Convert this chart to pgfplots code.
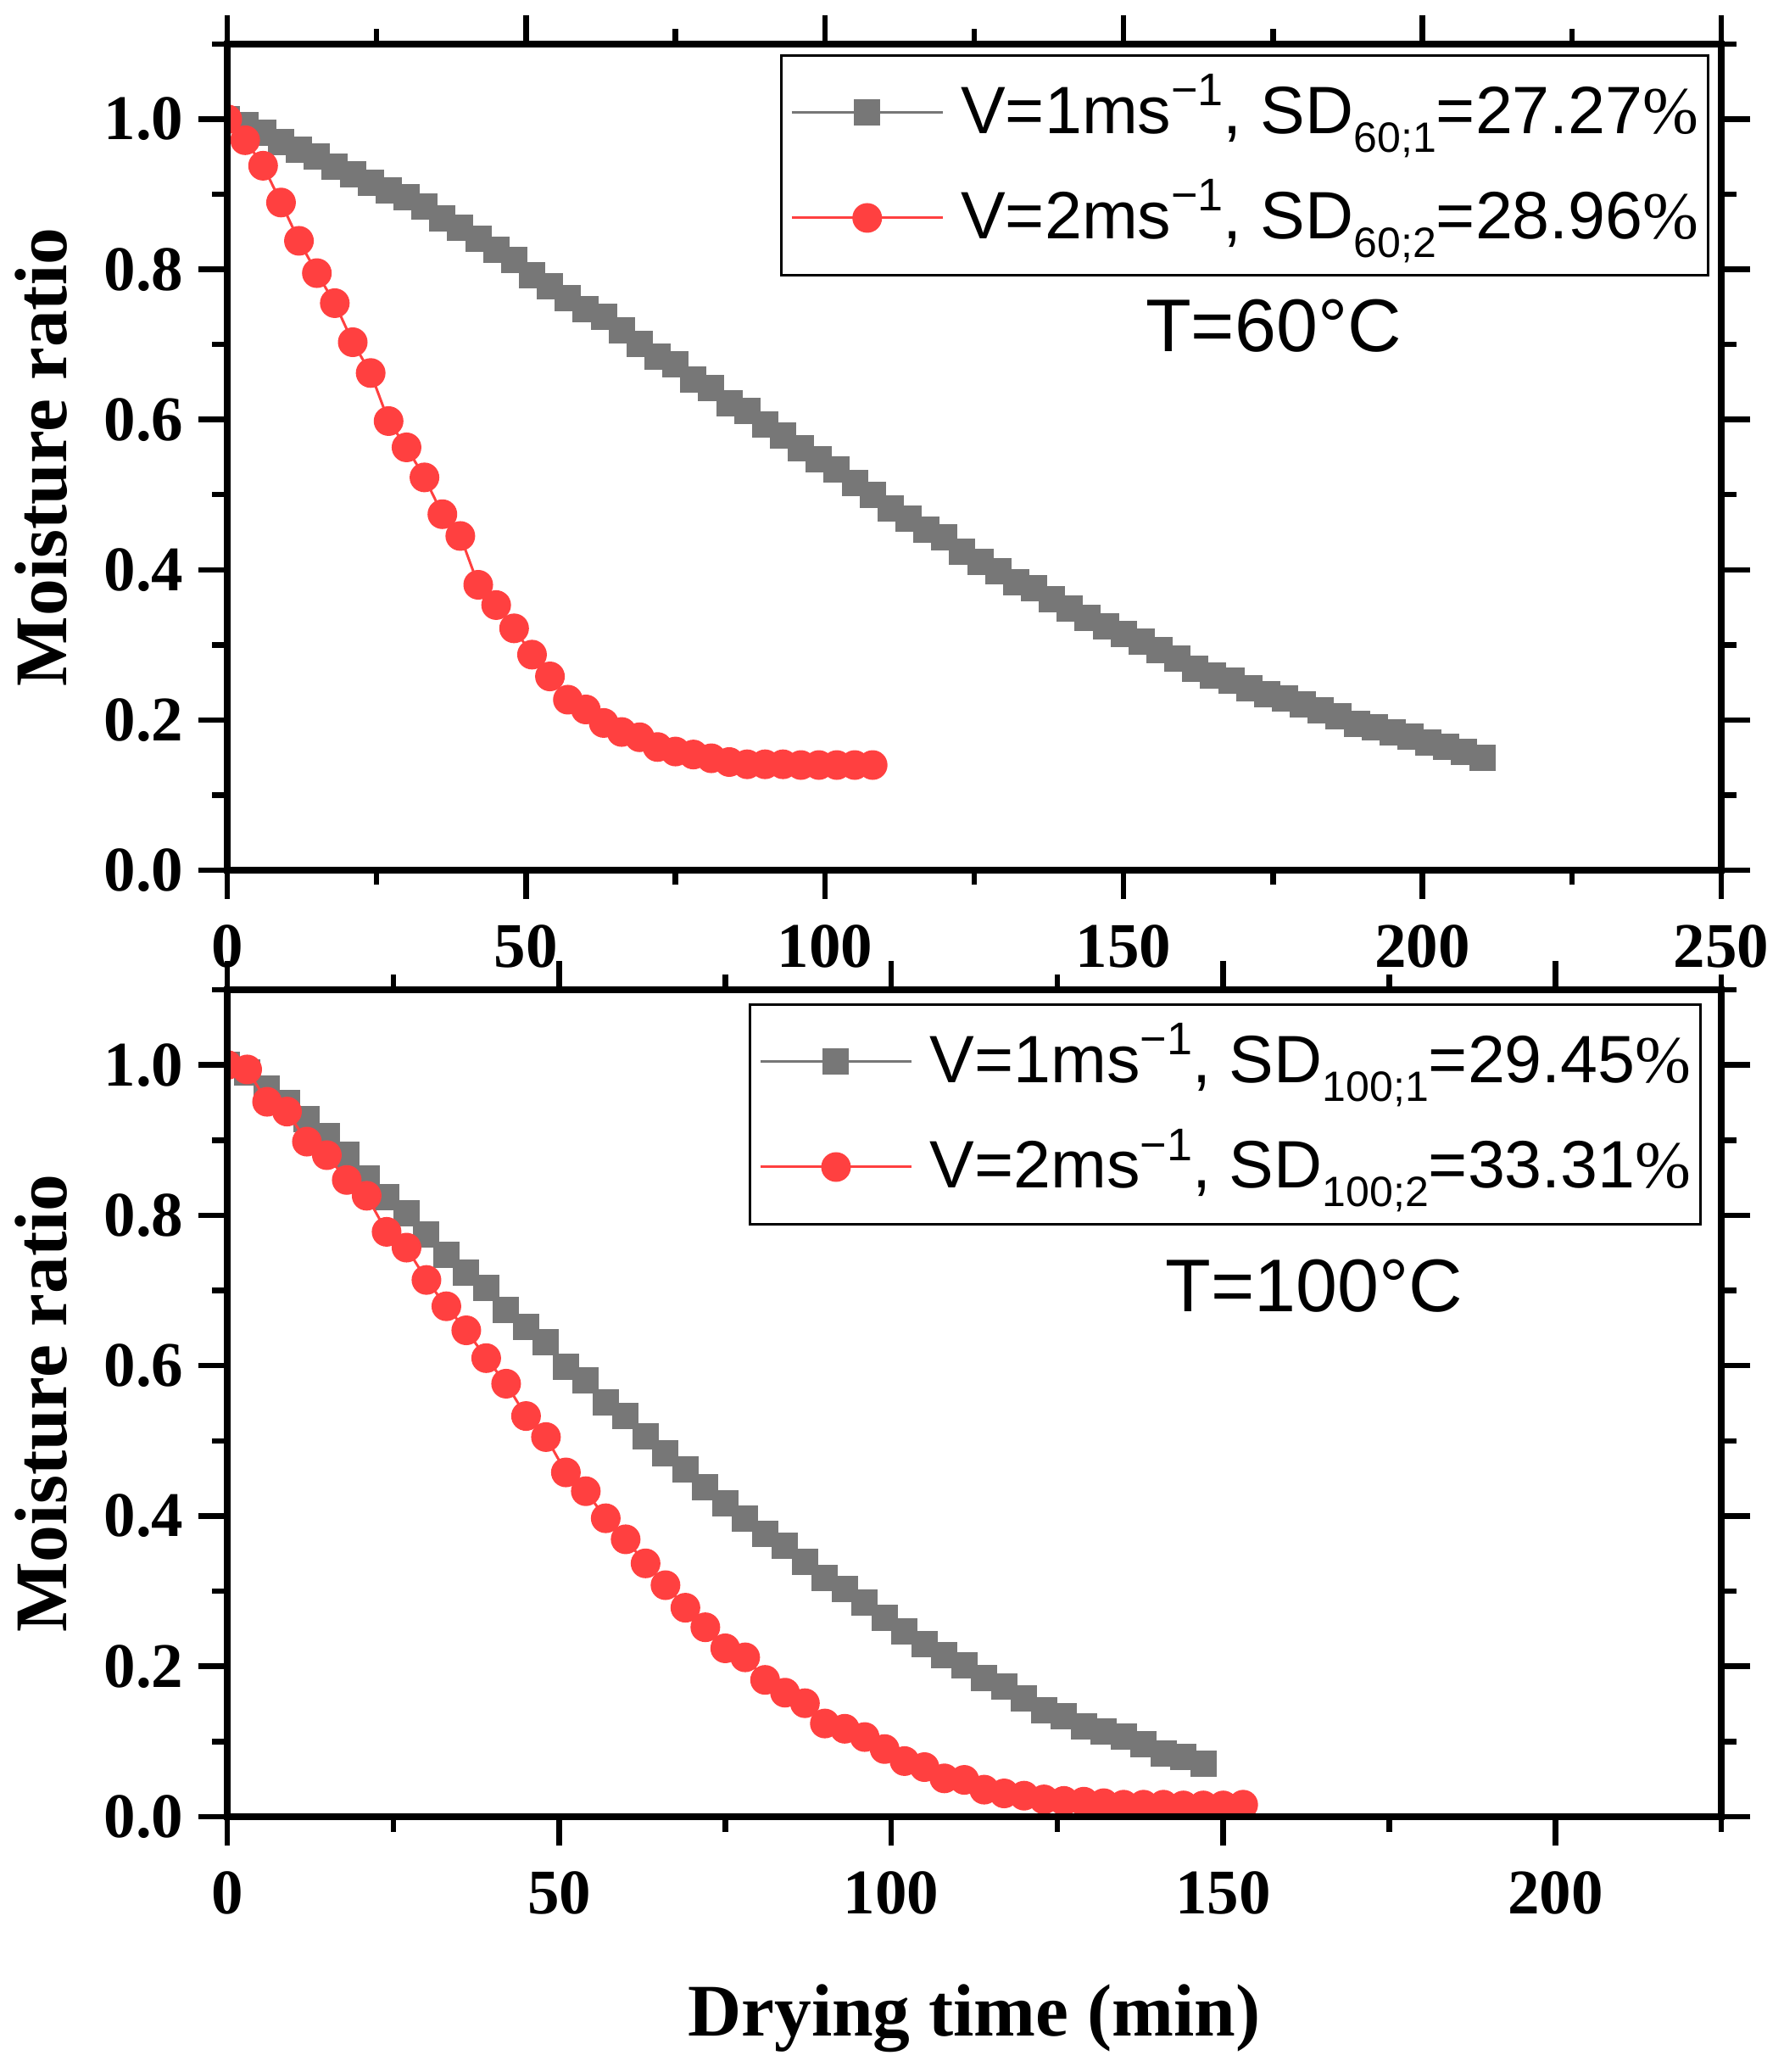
\documentclass[border=0pt]{standalone}
\usepackage{fontspec}
\setmainfont{Liberation Serif}
\newfontfamily\arial{Liberation Sans}
\usepackage{pgfplots}
\pgfplotsset{compat=1.18}

\definecolor{sqgray}{HTML}{777777}
\definecolor{dotred}{HTML}{FF4040}

% raised / lowered small text for the legend entries
\newcommand\sps[1]{\raisebox{6.5pt}{\fontsize{10.8}{10.8}\selectfont #1}}
\newcommand\sbs[1]{\raisebox{-4.4pt}{\fontsize{10}{10}\selectfont #1}}

\pgfplotsset{
  drypanel/.style={
    scale only axis, width=352.4pt, height=194.8pt,
    xmin=0, ymin=0, ymax=1.1,
    axis line style={line width=1.6pt},
    tick style={line width=1.3pt, black},
    major tick length=6.8pt, minor tick length=3.5pt,
    tick align=outside, tick pos=both,
    ytick={0,0.2,0.4,0.6,0.8,1.0},
    minor ytick={0.1,0.3,0.5,0.7,0.9,1.1},
    /pgf/number format/assume math mode=true,
    tick label style={font=\fontsize{15}{15}\selectfont\bfseries},
    yticklabel style={/pgf/number format/.cd, fixed, fixed zerofill, precision=1},
    xticklabel style={yshift=-2.6pt},
    clip marker paths=true, axis on top,
    ylabel={Moisture ratio},
    ylabel style={at={(axis description cs:-0.10727,0.5)}, anchor=base,
      font=\fontsize{17.5}{17.5}\selectfont\bfseries},
    legend cell align=left,
    legend image code/.code={
      \draw[mark repeat=2, mark phase=2, #1] plot coordinates {(0pt,0pt) (17.8pt,0pt) (35.6pt,0pt)};
    },
    legend style={draw=black, line width=0.6pt, inner xsep=2.2pt, inner ysep=4pt,
      row sep=5.8pt, column sep=4pt, anchor=north east,
      font=\arial\fontsize{15.8}{18}\selectfont,
      nodes={inner xsep=0pt, inner ysep=0pt, text height=14.4pt, text depth=4.6pt}},
  },
  grayline/.style={color=sqgray, line width=0.6pt, mark=square*, mark size=2.8pt,
    mark options={draw=none, fill=sqgray}},
  redline/.style={color=dotred, line width=0.6pt, mark=*, mark size=3.2pt,
    mark options={draw=none, fill=dotred}},
}

\begin{document}
\begin{tikzpicture}
\useasboundingbox (-53.6pt,-283.4pt) rectangle (367pt,205.2pt);

% T = 60 C
\begin{axis}[drypanel, at={(0pt,0pt)}, anchor=south west,
    xmax=250, xtick={0,50,...,250}, minor xtick={25,75,...,225},
    legend style={at={(1,1)}, xshift=-2.8pt, yshift=-2.4pt}]
\addplot[grayline] table {
0 1.000
3 0.992
6 0.982
9 0.970
12 0.959
15 0.950
18 0.937
21 0.927
24 0.915
27 0.905
30 0.896
33 0.884
36 0.868
39 0.855
42 0.841
45 0.826
48 0.813
51 0.792
54 0.777
57 0.762
60 0.747
63 0.737
66 0.719
69 0.701
72 0.684
75 0.674
78 0.653
81 0.642
84 0.622
87 0.611
90 0.593
93 0.579
96 0.562
99 0.547
102 0.534
105 0.515
108 0.500
111 0.482
114 0.468
117 0.453
120 0.443
123 0.424
126 0.410
129 0.398
132 0.383
135 0.376
138 0.361
141 0.348
144 0.336
147 0.325
150 0.314
153 0.304
156 0.293
159 0.282
162 0.268
165 0.259
168 0.252
171 0.242
174 0.234
177 0.229
180 0.221
183 0.213
186 0.205
189 0.195
192 0.190
195 0.183
198 0.178
201 0.170
204 0.164
207 0.157
210 0.150
};
\addlegendentry{V=1ms\sps{−1}, SD\sbs{60;1}=27.27{\rmfamily\%}}

\addplot[redline] table {
0 1.000
3 0.972
6 0.938
9 0.889
12 0.838
15 0.795
18 0.755
21 0.703
24 0.662
27 0.598
30 0.563
33 0.523
36 0.474
39 0.445
42 0.380
45 0.353
48 0.322
51 0.287
54 0.258
57 0.227
60 0.214
63 0.196
66 0.184
69 0.177
72 0.164
75 0.158
78 0.154
81 0.149
84 0.144
87 0.141
90 0.141
93 0.141
96 0.140
99 0.140
102 0.140
105 0.140
108 0.140
};
\addlegendentry{V=2ms\sps{−1}, SD\sbs{60;2}=28.96{\rmfamily\%}}

\node[anchor=base, font=\arial\fontsize{17.6}{17.6}\selectfont]
  at (axis description cs:0.7003,0.6273) {T=60°C};
\end{axis}

% T = 100 C
\begin{axis}[drypanel, at={(0pt,-223.2pt)}, anchor=south west, height=195pt,
    xmax=225, xtick={0,50,...,200}, minor xtick={25,75,...,225},
    xlabel={Drying time (min)},
    xlabel style={at={(axis description cs:0.5,-0.2646)}, anchor=base,
      font=\fontsize{17.5}{17.5}\selectfont\bfseries},
    legend style={at={(1,1)}, xshift=-4.6pt, yshift=-3.2pt}]
\addplot[grayline] table {
0 1.000
3 0.990
6 0.969
9 0.949
12 0.928
15 0.905
18 0.880
21 0.849
24 0.824
27 0.803
30 0.774
33 0.747
36 0.724
39 0.703
42 0.674
45 0.651
48 0.631
51 0.599
54 0.580
57 0.551
60 0.533
63 0.506
66 0.483
69 0.462
72 0.438
75 0.417
78 0.397
81 0.376
84 0.361
87 0.339
90 0.318
93 0.303
96 0.285
99 0.265
102 0.247
105 0.230
108 0.215
111 0.201
114 0.185
117 0.173
120 0.157
123 0.142
126 0.134
129 0.120
132 0.113
135 0.107
138 0.097
141 0.084
144 0.079
147 0.071
};
\addlegendentry{V=1ms\sps{−1}, SD\sbs{100;1}=29.45{\rmfamily\%}}

\addplot[redline] table {
0 1.000
3 0.994
6 0.951
9 0.938
12 0.898
15 0.880
18 0.847
21 0.826
24 0.778
27 0.757
30 0.714
33 0.679
36 0.647
39 0.610
42 0.576
45 0.533
48 0.505
51 0.458
54 0.433
57 0.397
60 0.369
63 0.337
66 0.308
69 0.278
72 0.252
75 0.224
78 0.212
81 0.182
84 0.165
87 0.151
90 0.124
93 0.117
96 0.106
99 0.090
102 0.074
105 0.066
108 0.051
111 0.049
114 0.036
117 0.031
120 0.028
123 0.023
126 0.021
129 0.020
132 0.018
135 0.016
138 0.016
141 0.016
144 0.015
147 0.015
150 0.015
153 0.016
};
\addlegendentry{V=2ms\sps{−1}, SD\sbs{100;2}=33.31{\rmfamily\%}}

\node[anchor=base, font=\arial\fontsize{17.6}{17.6}\selectfont]
  at (axis description cs:0.7276,0.6103) {T=100°C};
\end{axis}
\end{tikzpicture}
\end{document}
